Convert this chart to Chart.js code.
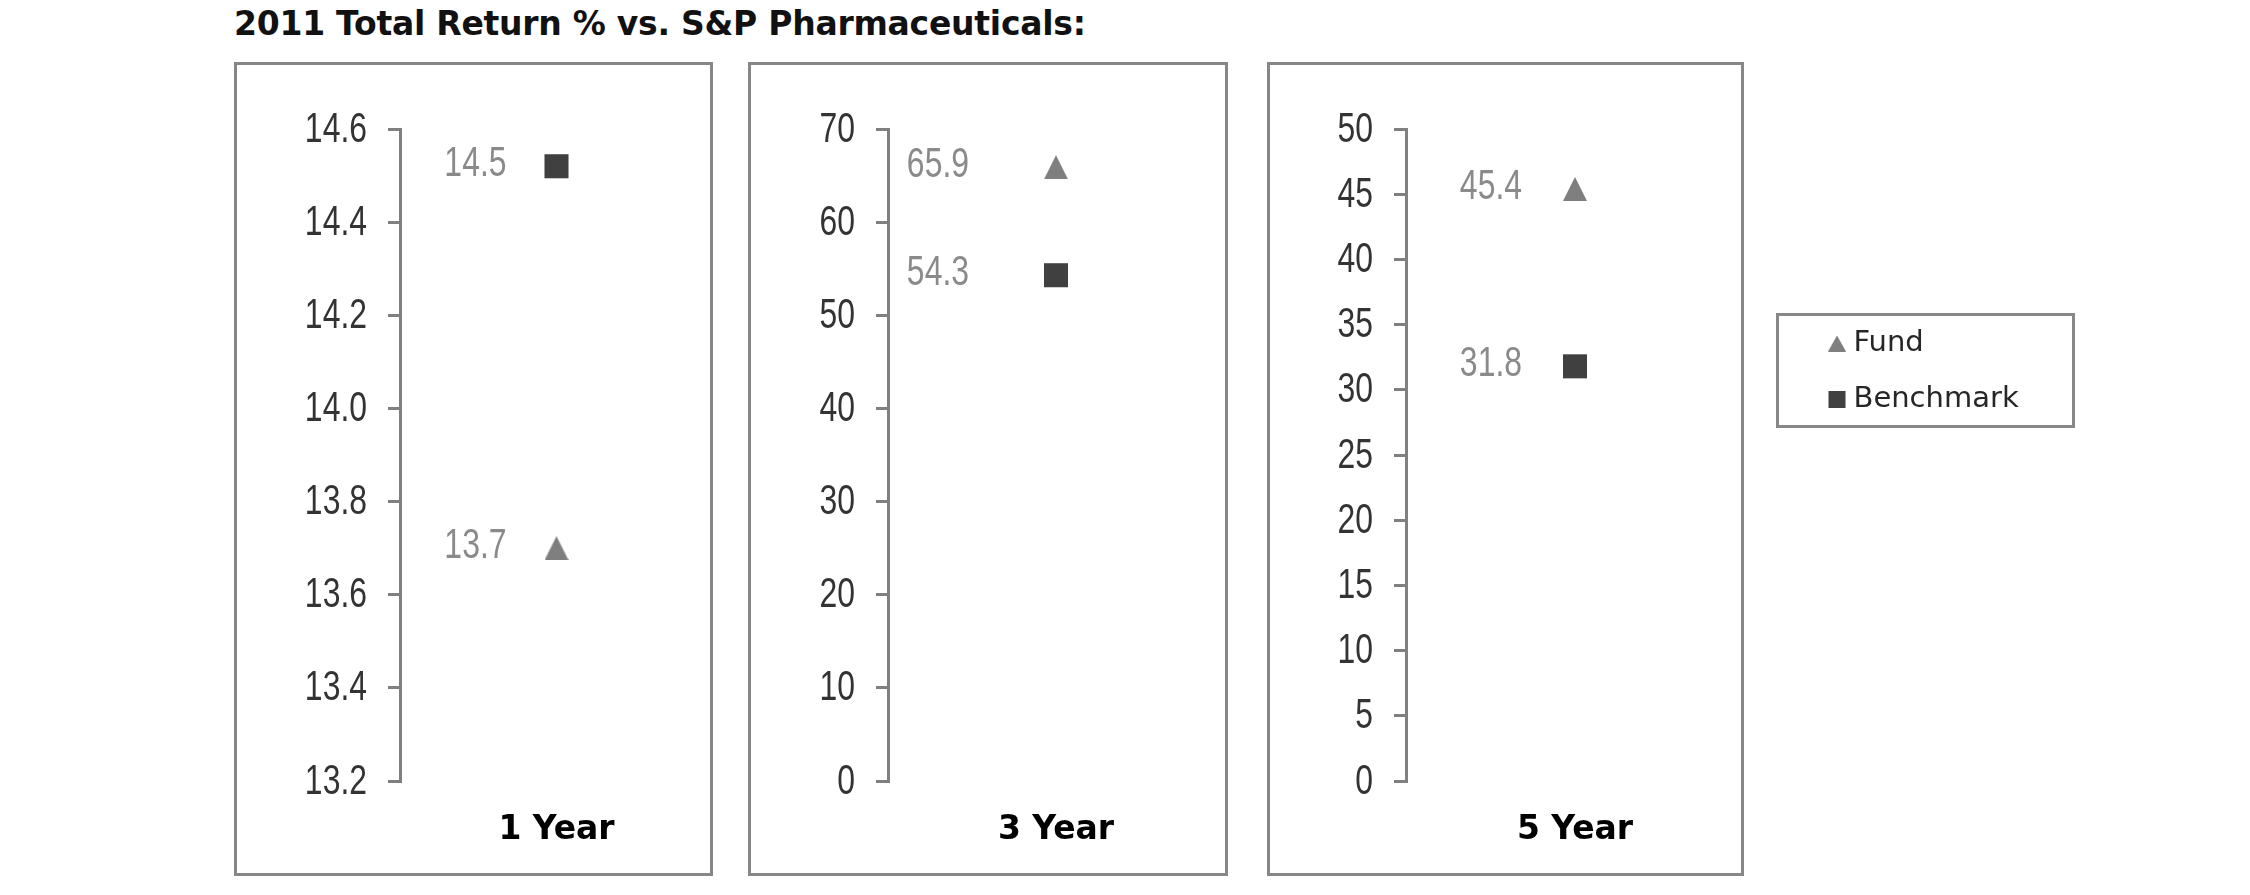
<!DOCTYPE html>
<html><head><meta charset="utf-8">
<script src="https://cdn.jsdelivr.net/npm/chart.js@4.4.1/dist/chart.umd.min.js"></script>
<style>
html,body{margin:0;padding:0;background:#fff;width:2250px;height:895px;overflow:hidden;}
#title{position:absolute;left:234px;top:7px;font-family:"DejaVu Sans";font-weight:bold;font-size:33px;letter-spacing:-0.25px;line-height:1;color:#111;white-space:nowrap;}
.box{position:absolute;}
.box canvas{position:absolute;left:0;top:0;}
.frame{position:absolute;border:3px solid #878787;box-sizing:border-box;pointer-events:none;}
</style></head><body>
<div id="title">2011 Total Return % vs. S&amp;P Pharmaceuticals:</div>

<div class="box" style="left:234px;top:62px;width:479px;height:814px"><canvas id="c1" width="479" height="814"></canvas></div>
<div class="frame" style="left:234px;top:62px;width:479px;height:814px"></div>

<div class="box" style="left:748px;top:62px;width:480px;height:814px"><canvas id="c2" width="480" height="814"></canvas></div>
<div class="frame" style="left:748px;top:62px;width:480px;height:814px"></div>

<div class="box" style="left:1267px;top:62px;width:477px;height:814px"><canvas id="c3" width="477" height="814"></canvas></div>
<div class="frame" style="left:1267px;top:62px;width:477px;height:814px"></div>

<div class="box" style="left:1808px;top:302px;width:300px;height:140px"><canvas id="cl" width="300" height="140"></canvas></div>
<div class="frame" style="left:1776px;top:313px;width:299px;height:115px"></div>

<script>
// ---- data ----
const seriesNames = ['Fund', 'Benchmark'];
const periods = ['1 Year', '3 Year', '5 Year'];
const fundValues = [13.7, 65.9, 45.4];
const benchmarkValues = [14.52, 54.3, 31.8];
const ticks1Year = [13.2, 13.4, 13.6, 13.8, 14.0, 14.2, 14.4, 14.6];
const ticks3Year = [0, 10, 20, 30, 40, 50, 60, 70];
const ticks5Year = [0, 5, 10, 15, 20, 25, 30, 35, 40, 45, 50];

// narrow numeric text (Arial-Narrow look): Liberation Sans squeezed horizontally
const NUM_FONT = '42px "Liberation Sans", Arial, sans-serif';
const NUM_SQUEEZE = 0.76;

const FUND_COLOR = '#7f7f7f';
const BENCH_COLOR = '#404040';

// Excel-style triangle marker (centred on its bounding box)
function triangleMarker(w, h, color) {
  const c = document.createElement('canvas');
  c.width = w; c.height = h;
  const g = c.getContext('2d');
  g.fillStyle = color;
  g.beginPath();
  g.moveTo(w / 2, 0);
  g.lineTo(w, h);
  g.lineTo(0, h);
  g.closePath();
  g.fill();
  return c;
}
const fundMarker = triangleMarker(24, 24, FUND_COLOR);
const fundLegendMarker = triangleMarker(18, 16, FUND_COLOR);

function squeezedText(ctx, text, x, y) {
  ctx.save();
  ctx.translate(x, y);
  ctx.scale(NUM_SQUEEZE, 1);
  ctx.fillText(text, 0, 0);
  ctx.restore();
}

const narrowLabels = {
  id: 'narrowLabels',
  afterDatasetsDraw(chart, args, opts) {
    const ctx = chart.ctx;
    ctx.save();
    ctx.font = NUM_FONT;
    ctx.textAlign = 'right';
    ctx.textBaseline = 'middle';
    // y-axis tick labels, positioned by the library's scale
    const ys = chart.scales.y;
    ctx.fillStyle = '#333333';
    ys.ticks.forEach(t => {
      squeezedText(ctx, opts.fmt(t.value), ys.right - 12 - opts.tickPad, ys.getPixelForValue(t.value) + 1);
    });
    // value labels next to the markers
    ctx.fillStyle = '#8a8a8a';
    chart.data.datasets.forEach((ds, i) => {
      const meta = chart.getDatasetMeta(i);
      meta.data.forEach((el, j) => {
        squeezedText(ctx, ds.data[j].toFixed(1), el.x - opts.offset, el.y - 2);
      });
    });
    ctx.restore();
  }
};

function makePanel(id, idx, ticks, cfg) {
  return new Chart(document.getElementById(id), {
    type: 'line',
    data: {
      labels: [periods[idx]],
      datasets: [
        { label: seriesNames[0], data: [fundValues[idx]], showLine: false,
          pointStyle: fundMarker, pointRadius: 12, pointHoverRadius: 12,
          backgroundColor: FUND_COLOR, borderColor: FUND_COLOR, pointBorderWidth: 0 },
        { label: seriesNames[1], data: [benchmarkValues[idx]], showLine: false,
          pointStyle: 'rect', pointRadius: 17, pointHoverRadius: 17,
          backgroundColor: BENCH_COLOR, borderColor: BENCH_COLOR, pointBorderWidth: 0 }
      ]
    },
    options: {
      responsive: false, animation: false,
      layout: { autoPadding: false, padding: { top: 67, right: cfg.right, left: 0, bottom: 0 } },
      plugins: { legend: { display: false }, tooltip: { enabled: false },
        narrowLabels: { offset: cfg.labelOffset, fmt: cfg.fmt, tickPad: 21 } },
      scales: {
        x: {
          type: 'category', offset: true,
          grid: { display: false, drawTicks: false }, border: { display: false },
          ticks: { font: { family: 'DejaVu Sans', weight: 'bold', size: 33 }, color: '#000', padding: 30 },
          afterFit(s) { s.height = 95; s.paddingLeft = 0; s.paddingRight = 0; }
        },
        y: {
          min: ticks[0], max: ticks[ticks.length - 1],
          afterBuildTicks(s) { s.ticks = ticks.map(v => ({ value: v })); },
          afterFit(s) { s.width = cfg.yw; s.paddingTop = 0; s.paddingBottom = 0; },
          grid: { drawOnChartArea: false, drawTicks: true, tickLength: 12, color: '#808080', lineWidth: 3 },
          border: { display: true, color: '#808080', width: 3 },
          ticks: { display: false }
        }
      }
    },
    plugins: [narrowLabels]
  });
}

makePanel('c1', 0, ticks1Year, { yw: 166, right: 0, labelOffset: 50, fmt: v => Number(v).toFixed(1) });
makePanel('c2', 1, ticks3Year, { yw: 140, right: 4, labelOffset: 87, fmt: v => String(v) });
makePanel('c3', 2, ticks5Year, { yw: 139, right: 0, labelOffset: 53, fmt: v => String(v) });

new Chart(document.getElementById('cl'), {
  type: 'line',
  data: {
    labels: [],
    datasets: [
      { label: seriesNames[0], data: [], pointStyle: fundLegendMarker, backgroundColor: FUND_COLOR, borderColor: FUND_COLOR, pointBackgroundColor: FUND_COLOR, pointBorderColor: FUND_COLOR, borderWidth: 0, pointBorderWidth: 0 },
      { label: seriesNames[1], data: [], pointStyle: 'rect', backgroundColor: BENCH_COLOR, borderColor: BENCH_COLOR, pointBackgroundColor: BENCH_COLOR, pointBorderColor: BENCH_COLOR, borderWidth: 0, pointBorderWidth: 0 }
    ]
  },
  options: {
    responsive: false, animation: false,
    layout: { padding: 0 },
    scales: { x: { display: false }, y: { display: false } },
    plugins: {
      tooltip: { enabled: false },
      legend: {
        position: 'left', align: 'start', maxWidth: 400,
        labels: { usePointStyle: true, boxWidth: 4, boxHeight: 17, padding: 27,
          font: { family: 'DejaVu Sans', size: 29 }, color: '#262626' }
      }
    }
  }
});
</script>
</body></html>
